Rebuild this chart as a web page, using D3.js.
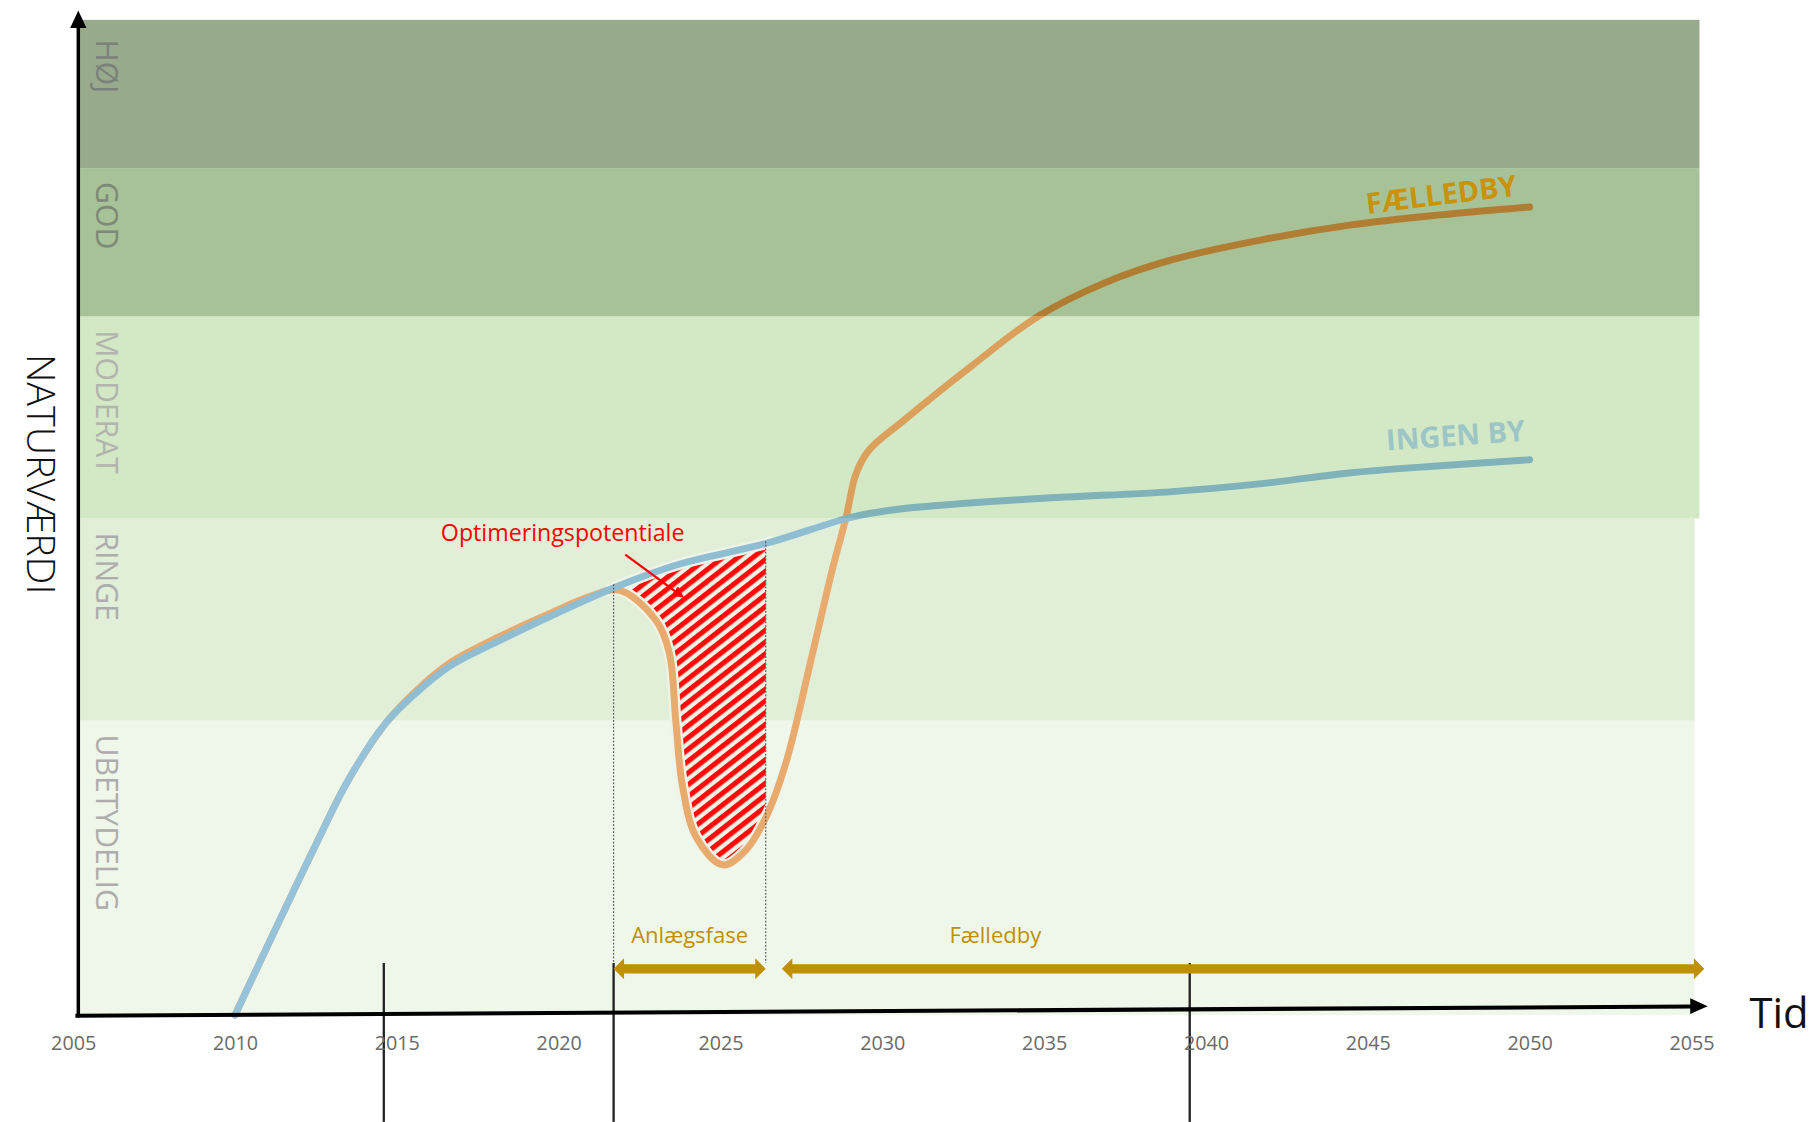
<!DOCTYPE html>
<html>
<head>
<meta charset="utf-8">
<script src="https://cdn.jsdelivr.net/npm/d3@7"></script>
<style>
  body { margin: 0; background: #fff; }
  text { font-family: "Open Sans", "DejaVu Sans", sans-serif; }
</style>
</head>
<body>
<svg id="chart"></svg>
<script>
// naturværdi bands (value scale 0..100)
const bandNames = ["UBETYDELIG", "RINGE", "MODERAT", "GOD", "HØJ"];
const bandLimits = [0, 29.6, 49.9, 70.2, 85.1, 100];

// INGEN BY curve
const ingenYears = [2010, 2011.45, 2012.48, 2013.5, 2014.65, 2015.57, 2016.6, 2018.15, 2019.69, 2021.75,
  2023.72, 2026.41, 2028.89, 2029.6, 2030.68, 2034.81, 2038.96, 2041.72, 2044.49, 2047.24, 2050];
const ingenValues = [0, 10.0, 17.0, 23.6, 29.3, 32.3, 35.0, 37.6, 40.0, 43.0,
  45.3, 47.4, 49.9, 50.4, 50.9, 51.9, 52.6, 53.4, 54.5, 55.2, 55.8];

// FÆLLEDBY curve
const faelledYears = [2010, 2011.45, 2012.48, 2013.5, 2014.65, 2015.57, 2016.6, 2018.15, 2019.69, 2021.0,
  2021.88, 2023.0, 2023.42, 2023.62, 2023.83, 2024.25, 2025.07, 2025.79, 2026.41, 2027.02, 2027.85,
  2028.46, 2028.89, 2029.19, 2029.6, 2030.68, 2032.75, 2034.81, 2036.89, 2038.96, 2041.72, 2044.49, 2047.24, 2050];
const faelledValues = [0, 10.0, 17.0, 23.6, 29.3, 32.5, 35.3, 38.0, 40.3, 42.1,
  42.7, 39.7, 36.4, 29.6, 23.0, 17.9, 15.1, 16.6, 19.9, 25.3, 36.4,
  44.8, 50.1, 54.4, 56.8, 59.8, 65.2, 70.2, 73.6, 75.9, 77.9, 79.4, 80.4, 81.2];

const tickYears = [2005, 2010, 2015, 2020, 2025, 2030, 2035, 2040, 2045, 2050, 2055];
const milestoneYears = [2014.6, 2021.7, 2039.5];
const phaseNames = ["Anlægsfase", "Fælledby"];
const phaseStart = [2021.7, 2026.9];
const phaseEnd = [2026.4, 2055.4];
const hatchRange = [2021.7, 2026.4];

// styles
const bandColors = ["#eff7ea", "#e1eed8", "#d3e8c5", "#a7c297", "#98aa8c"];
const bandTextColors = ["#adadad", "#adadad", "#b2b4ae", "#7d8878", "#79827a"];
const gold = "#bf9000";

const W = 1568, H = 967;
const x = d3.scaleLinear().domain([2005, 2055]).range([63, 1458]);
const y = d3.scaleLinear().domain([0, 100]).range([875, 17]);
const laneY = 835;

const svg = d3.select("#chart")
  .attr("width", 1819).attr("height", 1122)
  .attr("viewBox", `0 0 ${W} ${H}`);
const defs = svg.append("defs");

// bands
svg.append("g").selectAll("rect").data(bandNames).join("rect")
  .attr("x", 68)
  .attr("width", (d, i) => x(i >= 2 ? 2055.25 : 2055.1) - 68)
  .attr("y", (d, i) => y(bandLimits[i + 1]))
  .attr("height", (d, i) => y(bandLimits[i]) - y(bandLimits[i + 1]))
  .attr("fill", (d, i) => bandColors[i]);

svg.append("g").selectAll("text").data(bandNames).join("text")
  .attr("transform", (d, i) => `translate(83,${y(bandLimits[i + 1]) + (i == 4 ? 17 : 12)}) rotate(90)`)
  .attr("font-size", 26)
  .attr("fill", (d, i) => bandTextColors[i])
  .text(d => d);

// series
const ingen = ingenYears.map((t, i) => [t, ingenValues[i]]);
const faelled = faelledYears.map((t, i) => [t, faelledValues[i]]);
const curve = d3.curveCatmullRom.alpha(0.5);
const line = d3.line().x(d => x(d[0])).y(d => y(d[1])).curve(curve);

// hatched optimisation area between the two curves
const pat = defs.append("pattern").attr("id", "hatch")
  .attr("patternUnits", "userSpaceOnUse").attr("width", 8).attr("height", 8)
  .attr("patternTransform", "rotate(-38)");
pat.append("rect").attr("width", 8).attr("height", 8).attr("fill", "#eef5e6");
pat.append("rect").attr("width", 8).attr("height", 4.4).attr("fill", "#ff0a0a");

defs.append("clipPath").attr("id", "belowBlue").append("path")
  .attr("d", d3.area().x(d => x(d[0])).y0(y(0)).y1(d => y(d[1])).curve(curve)(ingen));
defs.append("clipPath").attr("id", "aboveOrange").append("path")
  .attr("d", d3.area().x(d => x(d[0])).y0(y(100)).y1(d => y(d[1])).curve(curve)(faelled));
defs.append("clipPath").attr("id", "hatchStrip").append("rect")
  .attr("x", x(hatchRange[0]) - 6).attr("width", x(hatchRange[1]) - x(hatchRange[0]) + 12)
  .attr("y", 0).attr("height", H);

svg.append("g").attr("clip-path", "url(#belowBlue)")
  .append("rect").attr("clip-path", "url(#aboveOrange)")
  .attr("x", x(hatchRange[0])).attr("width", x(hatchRange[1]) - x(hatchRange[0]))
  .attr("y", y(100)).attr("height", y(0) - y(100))
  .attr("fill", "url(#hatch)");

// stroke gradients: lines look tinted by the band they pass through
function bandGradient(id, stops) {
  const g = defs.append("linearGradient").attr("id", id)
    .attr("gradientUnits", "userSpaceOnUse")
    .attr("x1", 0).attr("x2", 0).attr("y1", y(0)).attr("y2", y(100));
  stops.forEach(s => {
    g.append("stop").attr("offset", s[0] / 100).attr("stop-color", s[2]);
    g.append("stop").attr("offset", s[1] / 100).attr("stop-color", s[2]);
  });
}
bandGradient("gOrange", [[0, 49.9, "#e8aa6d"], [49.9, 70.2, "#dba05c"], [70.2, 100, "#b07d33"]]);
bandGradient("gBlue", [[0, 29.6, "#96c2da"], [29.6, 49.9, "#8fbdd2"], [49.9, 100, "#7fb3b9"]]);

// light halo under the lines over the hatch
const halo = svg.append("g").attr("clip-path", "url(#hatchStrip)");
[faelled, ingen].forEach(s => halo.append("path").attr("d", line(s))
  .attr("fill", "none").attr("stroke", "#eef5e8").attr("stroke-width", 10));

svg.append("path").attr("d", line(faelled))
  .attr("fill", "none").attr("stroke", "url(#gOrange)").attr("stroke-width", 6)
  .attr("stroke-linecap", "round");
svg.append("path").attr("d", line(ingen))
  .attr("fill", "none").attr("stroke", "url(#gBlue)").attr("stroke-width", 6)
  .attr("stroke-linecap", "round");

// series labels
const lastF = faelled[faelled.length - 1], lastI = ingen[ingen.length - 1];
svg.append("text")
  .attr("transform", `translate(${x(lastF[0]) - 140},${y(lastF[1]) + 6}) rotate(-7)`)
  .attr("font-size", 25).attr("font-weight", 700).attr("fill", "#c8930a")
  .text("FÆLLEDBY");
svg.append("text")
  .attr("transform", `translate(${x(lastI[0]) - 123},${y(lastI[1]) - 8}) rotate(-4)`)
  .attr("font-size", 25).attr("font-weight", 700).attr("fill", "#9cc5c6")
  .text("INGEN BY");

// optimeringspotentiale annotation
defs.append("marker").attr("id", "redHead").attr("viewBox", "0 0 10 10")
  .attr("refX", 8).attr("refY", 5).attr("markerWidth", 5).attr("markerHeight", 5)
  .attr("orient", "auto").append("path").attr("d", "M0,0L10,5L0,10z").attr("fill", "#ff0000");
svg.append("text").attr("x", 485).attr("y", 466).attr("text-anchor", "middle")
  .attr("font-size", 20).attr("fill", "#ff0000").text("Optimeringspotentiale");
svg.append("line").attr("x1", 539).attr("y1", 478).attr("x2", 588).attr("y2", 514)
  .attr("stroke", "#ff0000").attr("stroke-width", 2).attr("marker-end", "url(#redHead)");

// dotted phase limits
svg.append("g").selectAll("line").data(hatchRange).join("line")
  .attr("x1", d => x(d)).attr("x2", d => x(d))
  .attr("y1", (d, i) => y(i ? 47.6 : 43.3)).attr("y2", laneY - 5)
  .attr("stroke", "#555").attr("stroke-width", 1).attr("stroke-dasharray", "1.5,1.5");

// milestone lines
svg.append("g").selectAll("line").data(milestoneYears).join("line")
  .attr("x1", d => x(d)).attr("x2", d => x(d))
  .attr("y1", laneY - 5).attr("y2", H)
  .attr("stroke", "#222").attr("stroke-width", 2);

// phase arrows
function dblArrow(a, b, c) {
  const t = 4, h = 9, l = 9;
  return `M${a},${c}L${a + l},${c - h}L${a + l},${c - t}L${b - l},${c - t}L${b - l},${c - h}L${b},${c}` +
    `L${b - l},${c + h}L${b - l},${c + t}L${a + l},${c + t}L${a + l},${c + h}Z`;
}
svg.append("g").selectAll("path").data(phaseNames).join("path")
  .attr("d", (d, i) => dblArrow(x(phaseStart[i]), x(phaseEnd[i]), laneY))
  .attr("fill", gold);
svg.append("g").selectAll("text").data(phaseNames).join("text")
  .attr("x", (d, i) => i ? 858 : (x(phaseStart[i]) + x(phaseEnd[i])) / 2)
  .attr("y", laneY - 22).attr("text-anchor", "middle")
  .attr("font-size", 19).attr("fill", gold).text(d => d);

// axes
svg.append("line").attr("x1", 67.5).attr("y1", 877).attr("x2", 67.5).attr("y2", 22)
  .attr("stroke", "#000").attr("stroke-width", 3);
svg.append("path").attr("d", "M67.5,9L74.5,24L60.5,24Z").attr("fill", "#000");
svg.append("line").attr("x1", 65).attr("y1", 875.5).attr("x2", 1460).attr("y2", 867.5)
  .attr("stroke", "#000").attr("stroke-width", 3.5);
svg.append("path").attr("d", "M1472,867.3L1457,860.5L1457,874Z").attr("fill", "#000");

const xAxis = svg.append("g").attr("transform", "translate(0,887)")
  .call(d3.axisBottom(x).tickValues(tickYears).tickFormat(d3.format("d")).tickSize(0).tickPadding(6));
xAxis.select(".domain").remove();
xAxis.selectAll("text").attr("font-size", 17).attr("fill", "#6a6a6a")
  .attr("font-family", "'Open Sans', sans-serif");

svg.append("text").attr("x", 1508).attr("y", 886).attr("font-size", 36).attr("fill", "#111").text("Tid");
svg.append("text").attr("transform", "translate(23,305) rotate(90)")
  .attr("font-size", 34).attr("font-weight", 300).attr("fill", "#111").text("NATURVÆRDI");
</script>
</body>
</html>
